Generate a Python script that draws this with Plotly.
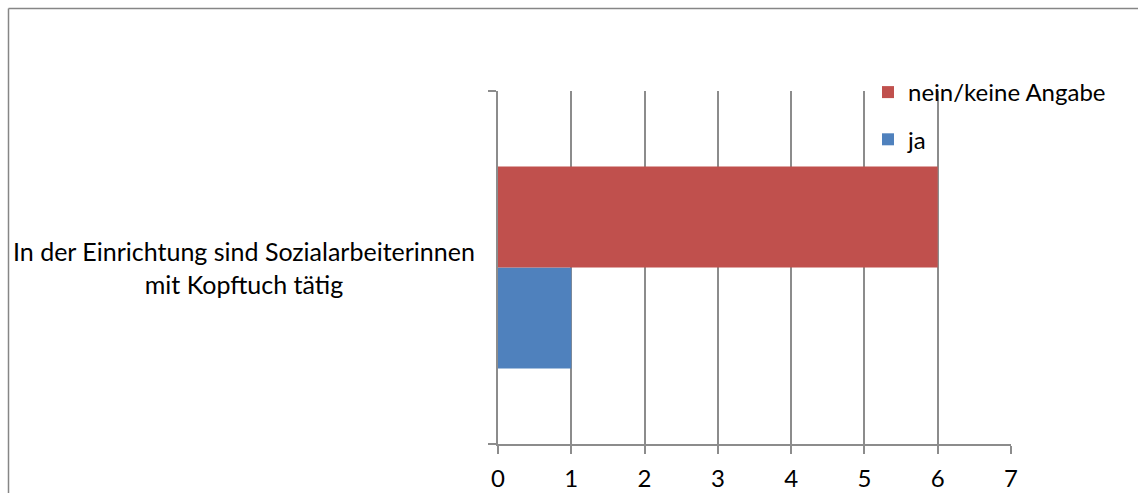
import plotly.graph_objects as go

categories = ["In der Einrichtung sind Sozialarbeiterinnen<br>mit Kopftuch tätig"]
series_names = ["ja", "nein/keine Angabe"]
values_ja = [1]
values_nein = [6]
x_ticks = [0, 1, 2, 3, 4, 5, 6, 7]

W, H = 1138, 493
L, R, T, B = 498, 127, 91, 49
PW = W - L - R
PH = H - T - B

def px_x(p):
    return (p - L) / PW

def px_y(p):
    return (H - B - p) / PH

FONT = "Lato, Calibri, Carlito, sans-serif"
GRID = "#8c8c8c"

fig = go.Figure()
fig.add_trace(go.Bar(y=categories, x=values_ja, name=series_names[0], orientation="h",
                     marker=dict(color="#4F81BD", line=dict(width=0)),
                     legendgroup="a", legendrank=2))
fig.add_trace(go.Bar(y=categories, x=values_nein, name=series_names[1], orientation="h",
                     marker=dict(color="#C0504D", line=dict(width=0)),
                     legendgroup="b", legendrank=1))

fig.update_layout(
    width=W, height=H,
    margin=dict(l=L, r=R, t=T, b=B, pad=0, autoexpand=False),
    paper_bgcolor="white", plot_bgcolor="white",
    barmode="group", bargap=0.428, bargroupgap=0,
    font=dict(family=FONT, size=24, color="black"),
    showlegend=True,
    legend=dict(x=px_x(868), y=px_y(70), xanchor="left", yanchor="top",
                traceorder="grouped", tracegroupgap=13,
                font=dict(family=FONT, size=24, color="black"),
                bgcolor="rgba(0,0,0,0)"),
    xaxis=dict(range=[0, 7], tickvals=x_ticks, ticktext=[str(v) for v in x_ticks],
               showgrid=True, gridcolor=GRID, gridwidth=1.5, zeroline=False,
               showline=True, linecolor=GRID, linewidth=1.5,
               ticks="outside", ticklen=8, tickcolor=GRID, tickwidth=1.5,
               ticklabelstandoff=4, automargin=False,
               tickfont=dict(family=FONT, size=24, color="black")),
    yaxis=dict(type="category", tickson="boundaries", showgrid=False, zeroline=False,
               showline=True, linecolor=GRID, linewidth=1.5,
               ticks="outside", ticklen=8, tickcolor=GRID, tickwidth=1.5,
               showticklabels=False, automargin=False),
)

fig.add_annotation(x=px_x(243.5), xref="paper", y=categories[0], yref="y",
                   text=categories[0], showarrow=False, xanchor="center", yanchor="middle",
                   align="center", font=dict(family=FONT, size=25, color="black"))

# chart frame (top and left edges visible)
fig.add_shape(type="line", xref="paper", yref="paper",
              x0=px_x(8.5), x1=px_x(1140), y0=px_y(8.5), y1=px_y(8.5),
              line=dict(color="#868686", width=1.5))
fig.add_shape(type="line", xref="paper", yref="paper",
              x0=px_x(8.5), x1=px_x(8.5), y0=px_y(8.5), y1=px_y(495),
              line=dict(color="#868686", width=1.5))

fig.write_html("out.html", config=dict(displayModeBar=False))
